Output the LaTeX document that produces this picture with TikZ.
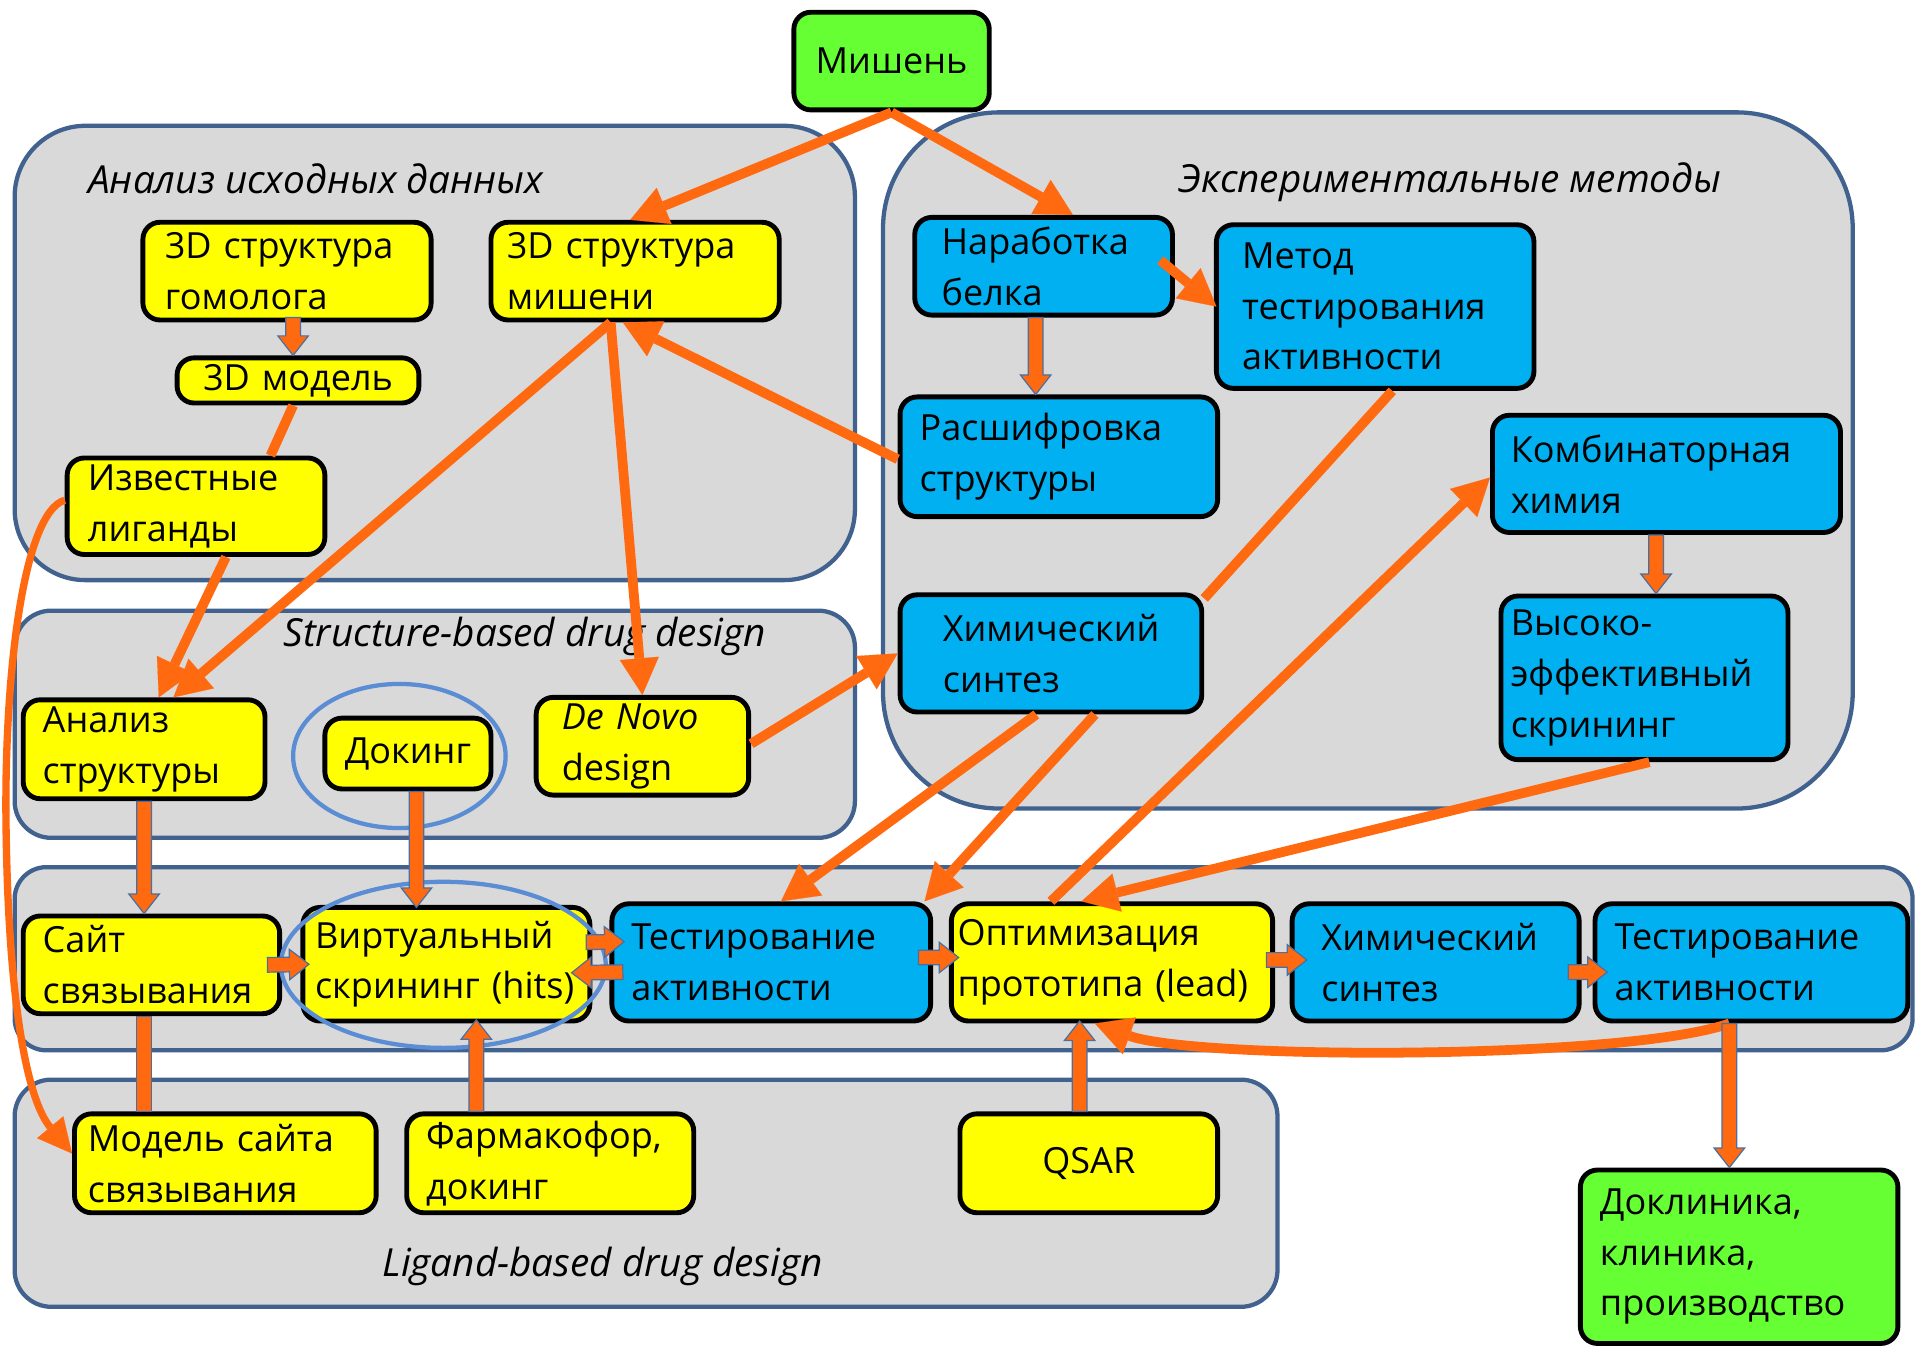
\documentclass[tikz,border=0pt]{standalone}
\usepackage{fontspec}
\setmainfont{Open Sans}
\usetikzlibrary{arrows.meta,calc,shapes.geometric}
\definecolor{ycol}{HTML}{FFFF00}
\definecolor{bcol}{HTML}{00B0F0}
\definecolor{gcol}{HTML}{66FF33}
\definecolor{grpfill}{HTML}{D9D9D9}
\definecolor{grpline}{HTML}{41628F}
\definecolor{orng}{HTML}{FF6A10}
\definecolor{ringc}{HTML}{5B8DD4}
\definecolor{baline}{HTML}{4A6FA0}
\newcommand\boxfont{\fontsize{29.5}{41.5}\selectfont}
\newcommand\lblfont{\fontsize{31.7}{40}\selectfont}
\newcommand\bx[8]{%
  \pgfmathsetmacro\bxw{#5-#3-2*#7}%
  \pgfmathsetmacro\bxh{#6-#4}%
  \pgfmathsetmacro\bxcx{(#3+#5)/2}%
  \pgfmathsetmacro\bxcy{(#4+#6)/2}%
  \node[#1, text width=\bxw pt, minimum height=\bxh pt, inner xsep=#7pt] (#2) at (\bxcx,\bxcy) {#8};%
}
\newcommand\blockarr[2]{%
  \coordinate (ba-s) at (#1);%
  \coordinate (ba-e) at (#2);%
  \coordinate (ba-c) at ($(ba-e)!16pt!(ba-s)$);%
  \draw[blockstyle] ($(ba-s)!6pt!90:(ba-e)$) -- ($(ba-c)!6pt!90:(ba-e)$) -- ($(ba-c)!12.5pt!90:(ba-e)$) -- (ba-e) -- ($(ba-c)!12.5pt!-90:(ba-e)$) -- ($(ba-c)!6pt!-90:(ba-e)$) -- ($(ba-s)!6pt!-90:(ba-e)$) -- cycle;%
}
\tikzset{
  grp/.style={draw=grpline, fill=grpfill, line width=3.5pt},
  grplabel/.style={font=\lblfont\itshape, anchor=west, inner sep=0pt},
  boxbase/.style={draw=black, line width=4pt, rounded corners=14pt, inner ysep=0pt, align=left, font=\boxfont},
  ybx/.style={boxbase, fill=ycol},
  bbx/.style={boxbase, fill=bcol},
  gbx/.style={boxbase, fill=gcol},
  ctr/.style={align=center},
  ring/.style={draw=ringc, line width=3.5pt, ellipse, inner sep=0pt},
  tarr/.style={draw=orng, line width=8pt, -{Triangle[length=30pt,width=32pt,line width=0.1pt]}},
  tline/.style={draw=orng, line width=8pt},
  larr/.style={draw=orng, line width=6pt, -{Triangle[length=28pt,width=28pt,line width=0.1pt]}},
  blockstyle/.style={fill=orng, draw=baline, line width=1pt, line join=miter},
}
\begin{document}
\begin{tikzpicture}[x=1pt,y=-1pt]
\useasboundingbox (0,0) rectangle (1568,1106);
% groups
\draw[grp, rounded corners=58pt] (12,103) rectangle (700,475);
\draw[grp, rounded corners=95pt] (723,92) rectangle (1517,662);
\draw[grp, rounded corners=30pt] (12,500) rectangle (700,686);
\draw[grp, rounded corners=26pt] (12,710) rectangle (1566,860);
\draw[grp, rounded corners=30pt] (12,884) rectangle (1046,1070);
\node[grplabel] (l1) at (72,146) {Анализ исходных данных};
\node[grplabel] (l2) at (965,149) {Экспериментальные методы};
\node[grplabel] (l3) at (232,521) {Structure-based drug design};
\node[grplabel] (l4) at (313,1037) {Ligand-based drug design};
% boxes
\bx{gbx,ctr}{mishen}{650}{10}{810}{90}{8}{Мишень}
\bx{ybx}{hom}{117}{182}{353}{262}{18}{3D~структура\\гомолога}
\bx{ybx}{tgt}{402}{182}{638}{262}{13}{3D~структура\\мишени}
\bx{ybx,ctr}{mod}{145}{293}{343}{330}{6}{3D~модель}
\bx{ybx}{lig}{55}{375}{266}{454}{17}{Известные\\лиганды}
\bx{bbx}{prot}{749}{178}{960}{258}{22}{Наработка\\белка}
\bx{bbx}{assay}{996}{184}{1256}{318}{21}{Метод\\тестирования\\активности}
\bx{bbx}{xray}{737}{325}{997}{423}{16}{Расшифровка\\структуры}
\bx{bbx}{comb}{1222}{340}{1507}{436}{15}{Комбинаторная\\химия}
\bx{bbx}{chem1}{737}{487}{984}{583}{35}{Химический\\синтез}
\bx{bbx}{hts}{1229}{488}{1464}{622}{8}{Высоко-\\эффективный\\скрининг}
\bx{ybx}{anal}{19}{573}{217}{654}{16}{Анализ\\структуры}
\bx{ybx,ctr}{dock}{266}{588}{402}{646}{6}{Докинг}
\bx{ybx}{denovo}{439}{571}{613}{651}{21}{\textit{De~Novo}\\design}
\bx{ybx}{site}{19}{750}{229}{830}{16}{Сайт\\связывания}
\bx{ybx}{vs}{248}{743}{483}{836}{10}{Виртуальный\\скрининг~(hits)}
\bx{bbx}{test1}{501}{740}{762}{836}{16}{Тестирование\\активности}
\bx{ybx}{lead}{779}{740}{1042}{836}{5}{Оптимизация\\прототипа~(lead)}
\bx{bbx}{chem2}{1058}{740}{1293}{836}{24}{Химический\\синтез}
\bx{bbx}{test2}{1306}{740}{1562}{836}{16}{Тестирование\\активности}
\bx{ybx}{sitemod}{61}{912}{308}{993}{11}{Модель~сайта\\связывания}
\bx{ybx}{pharm}{333}{912}{568}{993}{16}{Фармакофор,\\докинг}
\bx{ybx,ctr}{qsar}{786}{912}{997}{993}{6}{QSAR}
\bx{gbx}{clin}{1294}{958}{1554}{1100}{16}{Доклиника,\\клиника,\\производство}
% rings
\node[ring, minimum width=174pt, minimum height=118pt] (dockring) at (327,619) {};
\node[ring, minimum width=266pt, minimum height=136pt] (vsring) at (363,790) {};
% thick arrows
\draw[tarr] (mishen.south) -- ([xshift=-4pt]tgt.north);
\draw[tarr] (mishen.south) -- ([xshift=24pt]prot.north);
\draw[tline] ([xshift=-4pt]mod.south) -- ([xshift=61pt]lig.north);
\draw[larr] ([yshift=5pt]lig.west) .. controls (18,420) and (3,560) .. (5,680) .. controls (7,820) and (22,900) .. ([yshift=8pt]sitemod.west);
\draw[tarr] ([xshift=24.5pt]lig.south) -- ([xshift=12pt]anal.north);
\draw[tarr] ([xshift=-20pt]tgt.south) -- ([xshift=24pt]anal.north);
\draw[tarr] ([xshift=-20pt]tgt.south) -- (denovo.north);
\draw[tarr] ([yshift=-2pt]xray.west) -- ([xshift=-10pt]tgt.south);
\draw[tarr] ([xshift=-12pt,yshift=5pt]prot.east) -- ([xshift=2pt]assay.west);
\draw[tline] ([xshift=14pt]assay.south) -- ([yshift=-5pt]chem1.north east);
\draw[tarr] ([xshift=-50pt]lead.north) -- ([yshift=-3pt]comb.west);
\draw[tarr] ([xshift=-12pt]chem1.south) -- ([xshift=8pt]test1.north);
\draw[tarr] ([xshift=36pt]chem1.south) -- ([xshift=-7pt]test1.north east);
\draw[tarr] ([xshift=4pt]hts.south) -- ([xshift=-25pt]lead.north);
\draw[tarr] ([yshift=2pt]denovo.east) -- (chem1.west);
\draw[tarr] ([xshift=-18pt]test2.south) .. controls (1330,868) and (980,868) .. ([xshift=-14pt]lead.south);
% block arrows
\blockarr{[xshift=5pt,yshift=4pt]hom.south}{[xshift=-4pt]mod.north}
\blockarr{[xshift=-6.5pt]prot.south}{[xshift=-19pt]xray.north}
\blockarr{[xshift=-8.5pt]comb.south}{[xshift=9.5pt]hts.north}
\blockarr{anal.south}{[xshift=-6pt]site.north}
\blockarr{[xshift=7pt]dock.south}{[xshift=-24.5pt,yshift=-2pt]vs.north}
\blockarr{[xshift=-12pt]site.east}{[xshift=7pt]vs.west}
\blockarr{[xshift=-5pt,yshift=18pt]vs.east}{[xshift=12pt,yshift=17pt]test1.west}
\blockarr{[xshift=11pt,yshift=-8pt]test1.west}{[xshift=-17pt,yshift=-7pt]vs.east}
\blockarr{[xshift=-12pt,yshift=4pt]test1.east}{[xshift=8pt,yshift=4pt]lead.west}
\blockarr{[xshift=-7pt,yshift=2pt]lead.east}{[xshift=14pt,yshift=2pt]chem2.west}
\blockarr{[xshift=-11pt,yshift=-8pt]chem2.east}{[xshift=12pt,yshift=-8pt]test2.west}
\draw[blockstyle] ([xshift=-12pt]site.south) rectangle ([xshift=-60.5pt]sitemod.north);
\blockarr{[xshift=-60.5pt]pharm.north}{[xshift=24.5pt,yshift=3pt]vs.south}
\blockarr{[xshift=-7.5pt]qsar.north}{[xshift=-26.5pt,yshift=2pt]lead.south}
\blockarr{[xshift=-18pt]test2.south}{[xshift=-8pt]clin.north}
\end{tikzpicture}
\end{document}
